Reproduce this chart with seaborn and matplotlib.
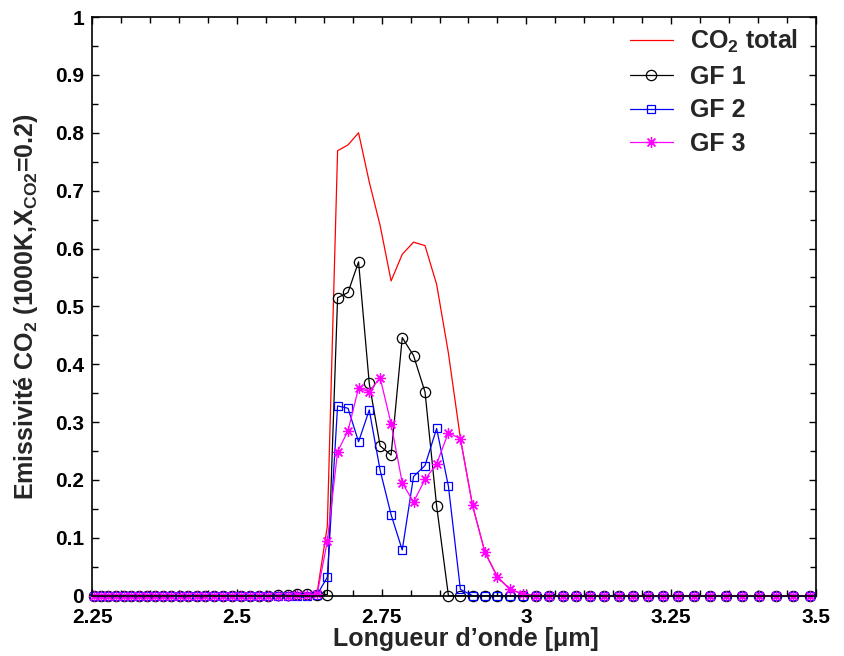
import numpy as np
import pandas as pd
import matplotlib
matplotlib.use("Agg")
import matplotlib.pyplot as plt
import seaborn as sns
from matplotlib.ticker import MultipleLocator, FixedLocator

# ---------------- data ----------------
# spectral grid (wavenumber, cm^-1), 25 cm^-1 bands
wavenumber_cm = [
    4440, 4415, 4390, 4365, 4340, 4315, 4290, 4265, 4240, 4215,
    4190, 4165, 4140, 4115, 4090, 4065, 4040, 4015, 3990, 3965,
    3940, 3915, 3890, 3865, 3840, 3815, 3790, 3765, 3740, 3715,
    3690, 3665, 3640, 3615, 3590, 3565, 3540, 3515, 3490, 3465,
    3440, 3415, 3390, 3365, 3340, 3315, 3290, 3265, 3240, 3215,
    3190, 3165, 3140, 3115, 3090, 3065, 3040, 3015, 2990, 2965,
    2940, 2915, 2890, 2865,
]

co2_total = [
    0, 0, 0, 0, 0, 0, 0, 0, 0, 0,
    0, 0, 0, 0, 0, 0, 0, 0, 0, 0,
    0, 0, 0, 0, 0.003, 0.004, 0.006, 0.120, 0.769, 0.779,
    0.800, 0.715, 0.640, 0.544, 0.590, 0.611, 0.605, 0.538, 0.419, 0.272,
    0.156, 0.076, 0.033, 0.011, 0.003, 0, 0, 0, 0, 0,
    0, 0, 0, 0, 0, 0, 0, 0, 0, 0,
    0, 0, 0, 0,
]

gf1 = [
    0, 0, 0, 0, 0, 0, 0, 0, 0, 0,
    0, 0, 0, 0, 0, 0, 0, 0, 0, 0,
    0, 0, 0.001, 0.002, 0.003, 0.003, 0.002, 0.002, 0.515, 0.524,
    0.577, 0.367, 0.259, 0.243, 0.446, 0.415, 0.352, 0.155, 0, 0,
    0, 0, 0, 0, 0, 0, 0, 0, 0, 0,
    0, 0, 0, 0, 0, 0, 0, 0, 0, 0,
    0, 0, 0, 0,
]

gf2 = [
    0, 0, 0, 0, 0, 0, 0, 0, 0, 0,
    0, 0, 0, 0, 0, 0, 0, 0, 0, 0,
    0, 0, 0, 0, 0, 0, 0.002, 0.032, 0.328, 0.324,
    0.266, 0.321, 0.217, 0.140, 0.079, 0.206, 0.225, 0.289, 0.189, 0.011,
    0, 0, 0, 0, 0, 0, 0, 0, 0, 0,
    0, 0, 0, 0, 0, 0, 0, 0, 0, 0,
    0, 0, 0, 0,
]

gf3 = [
    0, 0, 0, 0, 0, 0, 0, 0, 0, 0,
    0, 0, 0, 0, 0, 0, 0, 0, 0, 0,
    0, 0, 0, 0, 0.001, 0.002, 0.003, 0.094, 0.249, 0.285,
    0.359, 0.352, 0.377, 0.297, 0.195, 0.162, 0.201, 0.228, 0.282, 0.271,
    0.156, 0.075, 0.032, 0.011, 0.003, 0, 0, 0, 0, 0,
    0, 0, 0, 0, 0, 0, 0, 0, 0, 0,
    0, 0, 0, 0,
]

series_labels = [r"CO$_\mathbf{2}$ total", "GF 1", "GF 2", "GF 3"]
x_ticks = [2.25, 2.5, 2.75, 3.0, 3.25, 3.5]
x_tick_labels = ["2.25", "2.5", "2.75", "3", "3.25", "3.5"]
y_ticks = [0, 0.1, 0.2, 0.3, 0.4, 0.5, 0.6, 0.7, 0.8, 0.9, 1.0]
y_tick_labels = ["0", "0.1", "0.2", "0.3", "0.4", "0.5", "0.6", "0.7", "0.8", "0.9", "1"]

wavelength_um = 1e4 / np.array(wavenumber_cm, dtype=float)

df = pd.DataFrame({
    "lam": np.tile(wavelength_um, 4),
    "val": np.concatenate([co2_total, gf1, gf2, gf3]),
    "series": np.repeat(series_labels, len(wavelength_um)),
})

# ---------------- style ----------------
sns.set_style("ticks")
plt.rcParams["font.family"] = ["Liberation Sans", "DejaVu Sans"]
plt.rcParams["font.weight"] = "bold"
plt.rcParams["mathtext.fontset"] = "custom"
plt.rcParams["mathtext.rm"] = "Liberation Sans:bold"
plt.rcParams["mathtext.bf"] = "Liberation Sans:bold"
plt.rcParams["mathtext.it"] = "Liberation Sans:bold"

fig = plt.figure(figsize=(8.44, 6.56), dpi=100)
ax = fig.add_axes([0.1094, 0.0919, 0.8571, 0.8821])

styles = {
    series_labels[0]: dict(color="#ff0000", marker=None),
    series_labels[1]: dict(color="#000000", marker="o", markersize=7.4),
    series_labels[2]: dict(color="#0000ff", marker="s", markersize=6.0),
    series_labels[3]: dict(color="#ff00ff", marker=(8, 2, 0), markersize=7.8),
}

for lab in series_labels:
    st = styles[lab]
    sub = df[df["series"] == lab]
    kw = dict(color=st["color"], linewidth=0.9, label=lab, clip_on=False)
    if st["marker"] is not None:
        kw.update(marker=st["marker"], markersize=st["markersize"],
                  markerfacecolor="none", markeredgecolor=st["color"],
                  markeredgewidth=0.9)
    sns.lineplot(data=sub, x="lam", y="val", ax=ax, sort=False,
                 estimator=None, **kw)

ax.set_xlim(2.25, 3.5)
ax.set_ylim(0, 1)

ax.xaxis.set_major_locator(FixedLocator(x_ticks))
ax.set_xticklabels(x_tick_labels)
ax.xaxis.set_minor_locator(MultipleLocator(0.05))
ax.yaxis.set_major_locator(FixedLocator(y_ticks))
ax.set_yticklabels(y_tick_labels)
ax.yaxis.set_minor_locator(MultipleLocator(0.05))

ax.tick_params(which="both", direction="in", top=True, right=True,
               width=1.0, colors="black")
ax.tick_params(which="major", length=5)
ax.tick_params(which="minor", length=4)
ax.tick_params(axis="x", which="major", labelsize=15, pad=9)
ax.tick_params(axis="y", which="major", labelsize=15, pad=6)
for t in ax.get_xticklabels() + ax.get_yticklabels():
    t.set_fontweight("bold")

for s in ax.spines.values():
    s.set_visible(True)
    s.set_linewidth(1.2)
    s.set_color("black")

ax.set_xlabel("Longueur d\u2019onde [\u03bcm]", fontsize=18, fontweight="bold")
ax.set_ylabel(r"Emissivité CO$_\mathbf{2}$ (1000K,X$_\mathbf{CO2}$=0.2)",
              fontsize=18, fontweight="bold")
ax.xaxis.set_label_coords(0.517, -0.054)
ax.xaxis.label.set_va("top")
ax.yaxis.set_label_coords(-0.072, 0.5)

leg = ax.legend(loc="upper left", bbox_to_anchor=(0.743, 0.981),
                frameon=False, fontsize=18, handlelength=1.72,
                handletextpad=0.68, labelspacing=0.38, borderpad=0,
                borderaxespad=0, numpoints=1)
for t in leg.get_texts():
    t.set_fontweight("bold")

fig.savefig("out.png", dpi=100)
